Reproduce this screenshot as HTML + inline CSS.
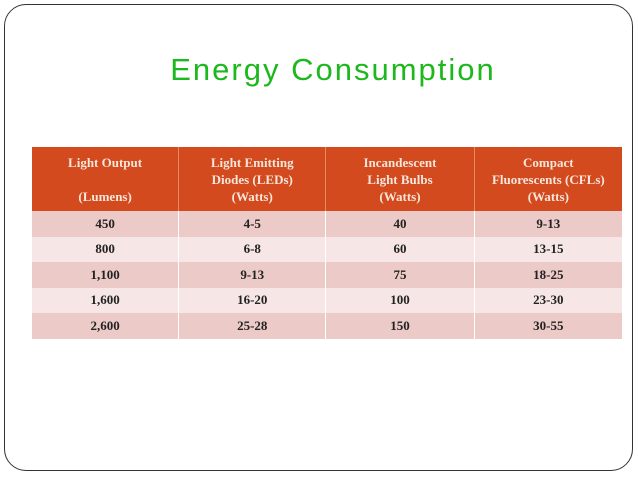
<!DOCTYPE html>
<html><head><meta charset="utf-8"><style>
html,body{margin:0;padding:0;background:#fff;}
body{width:638px;height:479px;position:relative;overflow:hidden;font-family:"Liberation Serif",serif;}
.frame{position:absolute;left:4px;top:4px;width:627px;height:465px;border:1.5px solid #333;border-radius:22px;}
.title{position:absolute;left:0;width:666px;top:52px;text-align:center;font-family:"Liberation Sans",sans-serif;font-size:31px;color:#1db81d;letter-spacing:2px;}
table{position:absolute;left:32px;top:147px;width:590px;border-collapse:collapse;font-weight:bold;font-size:13px;color:#222;}
th{background:#d24a1d;color:#f7e6dc;font-weight:bold;height:64px;vertical-align:middle;line-height:17px;border-right:1px solid #e88a60;padding:0;}
td{text-align:center;height:25.5px;padding:0;border-right:1px solid #fff;}
tr.o td{background:#eccac7;}tr.e td{background:#f6e6e5;}
th:last-child,td:last-child{border-right:none;}
</style></head><body>
<div class="frame"></div>
<div class="title">Energy Consumption</div>
<table>
<tr>
<th style="width:147px">Light Output<br><br>(Lumens)</th>
<th style="width:147px">Light Emitting<br>Diodes (LEDs)<br>(Watts)</th>
<th style="width:148px">Incandescent<br>Light Bulbs<br>(Watts)</th>
<th style="width:148px">Compact<br>Fluorescents (CFLs)<br>(Watts)</th></tr>
<tr class="o"><td>450</td><td>4-5</td><td>40</td><td>9-13</td></tr>
<tr class="e"><td>800</td><td>6-8</td><td>60</td><td>13-15</td></tr>
<tr class="o"><td>1,100</td><td>9-13</td><td>75</td><td>18-25</td></tr>
<tr class="e"><td>1,600</td><td>16-20</td><td>100</td><td>23-30</td></tr>
<tr class="o"><td>2,600</td><td>25-28</td><td>150</td><td>30-55</td></tr>
</table>
</body></html>
